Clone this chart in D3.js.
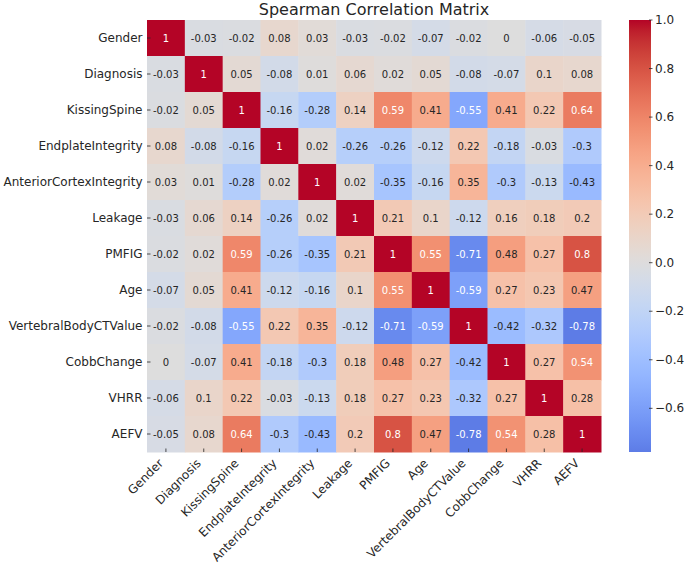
<!DOCTYPE html>
<html>
<head>
<meta charset="utf-8">
<script src="https://cdn.jsdelivr.net/npm/d3@7"></script>
<style>
  body { margin: 0; background: #fff; }
  text { font-family: "DejaVu Sans", sans-serif; fill: #262626; }
</style>
</head>
<body>
<div class="wrapper"></div>
<script>
const variables = ["Gender", "Diagnosis", "KissingSpine", "EndplateIntegrity",
    "AnteriorCortexIntegrity", "Leakage", "PMFIG", "Age",
    "VertebralBodyCTValue", "CobbChange", "VHRR", "AEFV"]

const genderRow = [1, -0.03, -0.02, 0.08, 0.03, -0.03, -0.02, -0.07, -0.02, 0, -0.06, -0.05]
const diagnosisRow = [-0.03, 1, 0.05, -0.08, 0.01, 0.06, 0.02, 0.05, -0.08, -0.07, 0.1, 0.08]
const kissingSpineRow = [-0.02, 0.05, 1, -0.16, -0.28, 0.14, 0.59, 0.41, -0.55, 0.41, 0.22, 0.64]
const endplateRow = [0.08, -0.08, -0.16, 1, 0.02, -0.26, -0.26, -0.12, 0.22, -0.18, -0.03, -0.3]
const anteriorRow = [0.03, 0.01, -0.28, 0.02, 1, 0.02, -0.35, -0.16, 0.35, -0.3, -0.13, -0.43]
const leakageRow = [-0.03, 0.06, 0.14, -0.26, 0.02, 1, 0.21, 0.1, -0.12, 0.16, 0.18, 0.2]
const pmfigRow = [-0.02, 0.02, 0.59, -0.26, -0.35, 0.21, 1, 0.55, -0.71, 0.48, 0.27, 0.8]
const ageRow = [-0.07, 0.05, 0.41, -0.12, -0.16, 0.1, 0.55, 1, -0.59, 0.27, 0.23, 0.47]
const ctValueRow = [-0.02, -0.08, -0.55, 0.22, 0.35, -0.12, -0.71, -0.59, 1, -0.42, -0.32, -0.78]
const cobbRow = [0, -0.07, 0.41, -0.18, -0.3, 0.18, 0.48, 0.27, -0.42, 1, 0.27, 0.54]
const vhrrRow = [-0.06, 0.1, 0.22, -0.03, -0.13, 0.18, 0.27, 0.23, -0.32, 0.27, 1, 0.28]
const aefvRow = [-0.05, 0.08, 0.64, -0.3, -0.43, 0.2, 0.8, 0.47, -0.78, 0.54, 0.28, 1]

const matrix = [genderRow, diagnosisRow, kissingSpineRow, endplateRow, anteriorRow,
    leakageRow, pmfigRow, ageRow, ctValueRow, cobbRow, vhrrRow, aefvRow]

const colorbarTicks = [1.0, 0.8, 0.6, 0.4, 0.2, 0.0, -0.2, -0.4, -0.6]

// Moreland cool-warm table (matplotlib "coolwarm")
const coolwarm = [
    [59,76,192],[68,90,204],[77,104,215],[87,117,225],[98,130,234],[108,142,241],
    [119,154,247],[130,165,251],[141,176,254],[152,185,255],[163,194,255],[174,201,253],
    [184,208,249],[194,213,244],[204,217,238],[213,219,230],[221,221,221],[229,216,209],
    [236,211,197],[241,204,185],[245,196,173],[247,187,160],[247,177,148],[247,166,135],
    [244,154,123],[241,141,111],[236,127,99],[229,112,88],[222,96,77],[213,80,66],
    [203,62,56],[192,40,47],[180,4,38]
].map(c => d3.rgb(...c).formatHex())

function drawChart() {
    const vmin = -0.78
    const vmax = 1
    // centred at 0, so the colormap spans -1..1 and only part of it is used
    const center = 0
    const vrange = Math.max(vmax - center, center - vmin)

    const dimensions = {
        width: 685,
        height: 564,
        left: 147,
        top: 20,
        right: 601,
        bottom: 452,
    }

    const svg = d3.select(".wrapper")
        .append("svg")
        .attr("width", dimensions.width)
        .attr("height", dimensions.height)

    const xScale = d3.scaleBand()
        .domain(variables)
        .range([dimensions.left, dimensions.right])

    const yScale = d3.scaleBand()
        .domain(variables)
        .range([dimensions.top, dimensions.bottom])

    const tScale = d3.scaleLinear().domain([center - vrange, center + vrange]).range([0, 1])
    const colorScale = d3.scaleLinear()
        .domain(coolwarm.map((c, i) => i / (coolwarm.length - 1)))
        .range(coolwarm)
        .interpolate(d3.interpolateRgb)
    const color = v => colorScale(tScale(v))

    const luminance = c => {
        const rgb = d3.rgb(c)
        const lin = [rgb.r, rgb.g, rgb.b].map(v => {
            v = v / 255
            return v <= 0.03928 ? v / 12.92 : Math.pow((v + 0.055) / 1.055, 2.4)
        })
        return 0.2126 * lin[0] + 0.7152 * lin[1] + 0.0722 * lin[2]
    }

    const cells = []
    matrix.forEach((row, i) => row.forEach((v, j) => {
        cells.push({row: variables[i], col: variables[j], value: v})
    }))

    const cellGroup = svg.append("g")
    cellGroup.selectAll("rect")
        .data(cells)
        .enter().append("rect")
        .attr("x", d => xScale(d.col))
        .attr("y", d => yScale(d.row))
        .attr("width", xScale.bandwidth() + 0.5)
        .attr("height", yScale.bandwidth() + 0.5)
        .attr("fill", d => color(d.value))

    cellGroup.selectAll("text")
        .data(cells)
        .enter().append("text")
        .attr("x", d => xScale(d.col) + xScale.bandwidth() / 2)
        .attr("y", d => yScale(d.row) + yScale.bandwidth() / 2)
        .attr("text-anchor", "middle")
        .attr("dominant-baseline", "central")
        .style("font-size", "10px")
        .style("fill", d => luminance(color(d.value)) > 0.408 ? "#262626" : "#ffffff")
        .text(d => String(d.value))

    // y axis
    const yAxis = svg.append("g")
    variables.forEach(v => {
        const cy = yScale(v) + yScale.bandwidth() / 2
        yAxis.append("line")
            .attr("x1", dimensions.left).attr("x2", dimensions.left + 3.5)
            .attr("y1", cy).attr("y2", cy)
            .attr("stroke", "#262626").attr("stroke-width", 0.8)
        yAxis.append("text")
            .attr("x", dimensions.left - 4.5)
            .attr("y", cy)
            .attr("text-anchor", "end")
            .attr("dominant-baseline", "central")
            .style("font-size", "12px")
            .text(v)
    })

    // x axis
    const xAxis = svg.append("g")
    variables.forEach(v => {
        const cx = xScale(v) + xScale.bandwidth() / 2
        xAxis.append("line")
            .attr("x1", cx).attr("x2", cx)
            .attr("y1", dimensions.bottom - 3.5).attr("y2", dimensions.bottom)
            .attr("stroke", "#262626").attr("stroke-width", 0.8)
        xAxis.append("text")
            .attr("transform", `translate(${cx - 2}, ${dimensions.bottom + 12}) rotate(-45)`)
            .attr("text-anchor", "end")
            .style("font-size", "12px")
            .text(v)
    })

    svg.append("text")
        .attr("x", (dimensions.left + dimensions.right) / 2)
        .attr("y", 15)
        .attr("text-anchor", "middle")
        .style("font-size", "16px")
        .text("Spearman Correlation Matrix")

    // colorbar
    const cbar = {x: 629, width: 22}
    const defs = svg.append("defs")
    const stopValues = d3.range(0, 41).map(i => vmin + (vmax - vmin) * i / 40)
    defs.append("linearGradient")
        .attr("id", "cbar-gradient")
        .attr("x1", 0).attr("y1", 1).attr("x2", 0).attr("y2", 0)
        .selectAll("stop")
        .data(stopValues)
        .enter().append("stop")
        .attr("offset", (d, i) => `${i * 100 / (stopValues.length - 1)}%`)
        .attr("stop-color", d => color(d))

    const cbarScale = d3.scaleLinear()
        .domain([vmin, vmax])
        .range([dimensions.bottom, dimensions.top])

    svg.append("rect")
        .attr("x", cbar.x)
        .attr("y", dimensions.top)
        .attr("width", cbar.width)
        .attr("height", dimensions.bottom - dimensions.top)
        .style("fill", "url(#cbar-gradient)")

    const cbarAxis = svg.append("g")
    colorbarTicks.forEach(t => {
        const ty = cbarScale(t)
        cbarAxis.append("line")
            .attr("x1", cbar.x + cbar.width - 2).attr("x2", cbar.x + cbar.width + 1.5)
            .attr("y1", ty).attr("y2", ty)
            .attr("stroke", "#262626").attr("stroke-width", 0.8)
        cbarAxis.append("text")
            .attr("x", cbar.x + cbar.width + 4)
            .attr("y", ty)
            .attr("dominant-baseline", "central")
            .style("font-size", "12px")
            .text(d3.format(".1f")(t).replace("-", "\u2212"))
    })
}

drawChart()
</script>
</body>
</html>
